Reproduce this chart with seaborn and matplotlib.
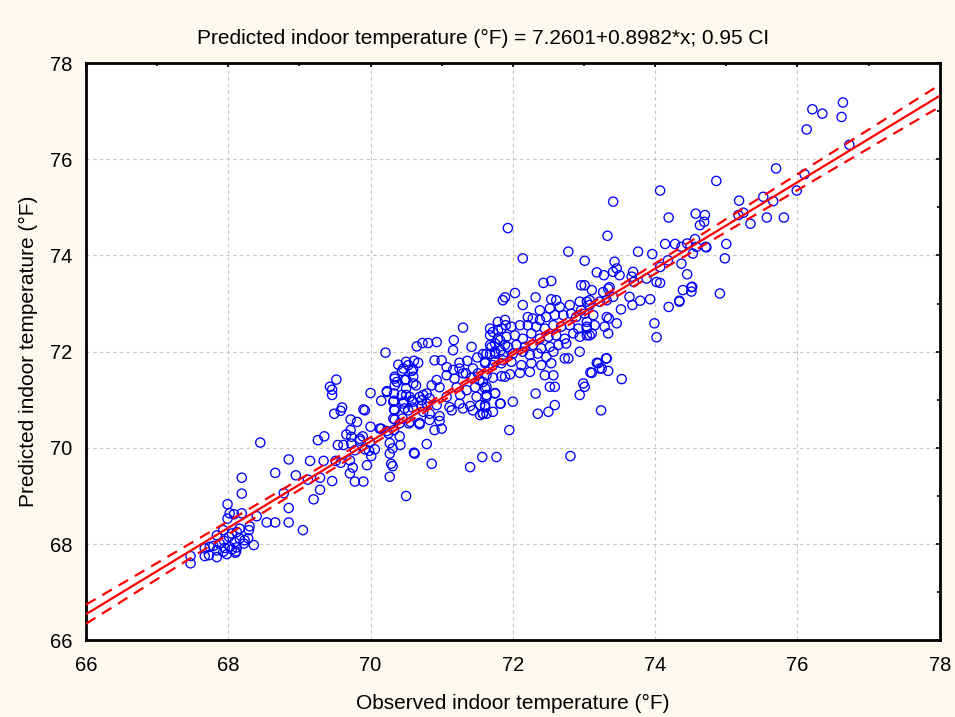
import numpy as np
import pandas as pd
import matplotlib
matplotlib.use("Agg")
import matplotlib.pyplot as plt
from matplotlib.ticker import MultipleLocator
import seaborn as sns

# Observed vs. predicted indoor temperature (°F)
observed = [
    68.45, 69.26, 69.35, 69.54, 68.85, 69.15, 69.34, 68.66, 68.95, 69.12, 69.29, 69.46, 68.19, 68.19,
    68.78, 69.29, 69.20, 67.99, 68.85, 68.02, 68.08, 68.19, 67.99, 68.40, 68.54, 68.66, 68.85, 68.30,
    69.05, 68.16, 68.29, 67.93, 68.05, 68.12, 67.84, 68.01, 68.16, 68.28, 67.94, 68.09, 68.23, 68.36,
    67.79, 67.88, 67.95, 68.02, 68.12, 68.22, 67.67, 67.74, 67.84, 67.93, 68.05, 68.11, 67.47, 67.67,
    67.73, 67.84, 67.98, 68.10, 67.47,
    70.65, 70.73, 70.81, 70.21, 70.39, 70.50, 70.53, 70.61, 70.67, 70.44, 70.58, 69.52, 69.43, 69.46,
    69.46, 70.34, 70.37, 70.50, 70.60, 70.60, 70.64, 70.00, 70.23, 70.33, 70.50, 70.50, 70.47, 70.58,
    70.69, 70.79, 70.15, 70.33, 69.60, 69.58, 69.49, 69.90, 69.92, 70.33, 70.48, 70.59, 70.72, 69.72,
    69.81, 70.34, 70.45, 70.54, 70.69, 70.00, 70.13, 70.23, 70.33, 69.72, 69.66, 69.73, 69.85, 69.89,
    70.41, 70.27, 70.31, 70.42, 69.62, 69.73, 69.85, 69.99, 70.79, 69.78, 69.92, 69.98, 70.06, 70.01,
    70.61, 69.51, 69.58, 69.71, 69.75, 69.71, 69.95, 70.29, 70.31, 69.78, 69.90, 70.27, 70.50,
    71.30, 71.68, 71.72, 71.79, 71.84, 71.90, 71.86, 70.93, 71.17, 71.16, 71.42, 71.68, 71.75, 71.82,
    71.89, 71.83, 71.75, 71.68, 71.58, 70.90, 71.00, 71.25, 71.36, 71.50, 71.61, 71.75, 71.86, 70.46,
    70.60, 71.07, 71.16, 71.25, 71.34, 71.44, 71.51, 70.34, 70.48, 70.93, 71.07, 71.18, 71.30, 71.42,
    71.53, 71.63, 71.72, 71.89, 70.34, 70.86, 70.97, 71.21, 71.35, 71.47, 71.61, 70.23, 70.44, 70.55,
    70.74, 70.72, 70.83, 71.07, 71.26, 71.49, 71.63, 71.75, 70.32, 70.46, 70.60, 70.79, 70.93, 71.11,
    71.25, 71.40, 71.54, 71.61, 71.82, 70.34, 70.53, 70.74, 70.83, 70.97, 71.14, 71.30, 71.44, 71.58,
    71.72, 70.32, 70.41, 70.56, 70.69, 70.83, 70.97, 71.54, 70.15, 70.25, 70.90, 71.00, 70.27, 70.62,
    70.86, 71.40, 71.57, 71.77,
    72.14, 72.78, 73.01, 73.18, 73.28, 72.43, 72.54, 72.96, 73.01, 72.03, 71.89, 72.32, 73.11, 73.27,
    73.34, 72.54, 72.61, 72.14, 72.38, 72.52, 72.66, 72.80, 72.94, 73.04, 73.08, 72.96, 72.21, 72.28,
    72.38, 72.47, 72.59, 72.71, 72.82, 72.89, 73.01, 73.13, 73.32, 71.79, 71.89, 71.98, 72.10, 72.21,
    72.33, 72.45, 72.57, 72.68, 72.80, 72.92, 73.04, 73.15, 73.08, 72.94, 72.85, 71.68, 71.79, 71.91,
    72.03, 72.14, 72.26, 72.38, 72.50, 72.61, 72.73, 71.70, 71.93, 72.05, 72.17, 72.28, 72.40, 72.52,
    72.64, 72.75, 71.63, 71.75, 71.86, 72.00, 72.14, 72.24, 72.35, 72.47, 72.57, 72.73, 72.78, 72.94,
    73.20, 73.31, 71.61, 71.72, 71.84, 71.98, 72.12, 72.26, 72.40, 72.54, 71.84, 71.96, 72.10, 72.24,
    72.45, 72.57, 73.11, 73.22, 71.58, 71.63, 71.75, 71.63, 71.61, 71.58, 71.63, 72.52, 72.59, 72.99,
    73.01, 72.94, 72.32, 72.00, 71.83, 72.59, 72.50, 72.35, 73.24, 71.95,
    73.41, 74.19, 74.57, 74.70, 74.63, 74.69, 73.33, 74.14, 74.28, 74.37, 74.45, 74.56, 74.58, 74.71,
    74.53, 73.76, 73.96, 73.43, 73.46, 73.41, 73.50, 73.69, 73.67, 73.70, 73.88, 74.02, 74.07, 74.18,
    74.37, 74.45, 74.39, 74.51, 74.51, 73.36, 73.08, 73.22, 73.32, 73.41, 73.64, 73.68, 73.79, 73.52,
    73.93, 74.19, 74.34, 73.04, 73.04, 73.29, 73.46, 73.35, 73.04, 73.11, 73.34, 73.99, 74.02, 73.18,
    73.32, 73.25, 73.34, 73.09, 73.53,
    75.70, 74.86, 74.07, 75.18, 75.52, 75.66, 75.17, 75.24, 75.34, 75.57, 75.81, 74.72, 75.00, 74.98,
    74.52, 74.34, 74.91, 74.07,
    76.21, 76.35, 76.64, 76.62, 76.13, 76.73, 76.10, 75.99,
    71.93, 72.81,
]
predicted = [
    70.11, 70.16, 70.24, 70.06, 69.76, 69.73, 69.73, 69.48, 69.43, 69.34, 69.38, 69.31, 69.38, 69.05,
    69.06, 69.13, 68.93, 68.83, 68.75, 68.64, 68.62, 68.64, 68.53, 68.58, 68.45, 68.45, 68.45, 68.37,
    68.29, 68.32, 68.29, 68.29, 68.22, 68.25, 68.18, 68.15, 68.12, 68.12, 68.07, 68.04, 68.08, 67.98,
    67.96, 68.01, 67.92, 67.94, 67.93, 68.01, 67.91, 67.94, 67.87, 67.84, 67.89, 67.85, 67.75, 67.75,
    67.77, 67.73, 67.79, 67.82, 67.60,
    72.11, 72.18, 72.18, 71.98, 71.73, 71.79, 71.72, 71.81, 71.77, 71.60, 71.60, 71.42, 71.27, 71.21,
    71.10, 71.48, 71.37, 71.42, 71.48, 71.34, 71.30, 71.14, 71.16, 71.13, 71.24, 71.10, 70.96, 70.99,
    71.06, 71.13, 70.98, 70.98, 70.84, 70.77, 70.71, 70.80, 70.78, 70.80, 70.82, 70.84, 70.87, 70.59,
    70.54, 70.59, 70.61, 70.51, 70.52, 70.44, 70.40, 70.35, 70.37, 70.37, 70.28, 70.23, 70.19, 70.24,
    70.24, 70.10, 69.99, 70.06, 70.06, 70.09, 70.15, 70.12, 70.08, 69.95, 69.97, 69.94, 69.97, 69.83,
    69.90, 69.73, 69.69, 69.74, 69.59, 69.47, 69.64, 69.67, 69.62, 69.30, 69.30, 69.40, 69.00,
    72.50, 72.48, 72.41, 72.45, 72.48, 72.55, 73.07, 72.20, 72.24, 72.03, 72.10, 72.14, 72.17, 72.24,
    72.14, 72.03, 71.96, 71.95, 71.95, 71.82, 71.82, 71.77, 71.81, 71.88, 71.79, 71.79, 71.82, 71.65,
    71.63, 71.68, 71.62, 71.65, 71.55, 71.65, 71.55, 71.44, 71.41, 71.41, 71.51, 71.44, 71.55, 71.46,
    71.41, 71.51, 71.46, 71.48, 71.30, 71.30, 71.26, 71.26, 71.20, 71.26, 71.24, 71.18, 71.10, 71.06,
    71.10, 70.99, 71.03, 71.06, 71.10, 71.06, 71.10, 71.14, 70.96, 70.92, 70.96, 70.92, 70.89, 70.85,
    70.92, 70.87, 70.89, 70.85, 70.92, 70.78, 70.78, 70.75, 70.71, 70.66, 70.78, 70.82, 70.78, 70.71,
    70.75, 70.61, 70.51, 70.54, 70.49, 70.58, 70.56, 70.68, 70.40, 70.30, 70.37, 70.40, 69.88, 69.88,
    69.67, 69.60, 69.81, 69.81,
    73.94, 74.08, 73.89, 73.65, 73.59, 73.43, 73.47, 73.38, 73.38, 73.22, 73.13, 73.13, 73.28, 73.24,
    73.31, 73.09, 73.07, 72.97, 72.86, 72.90, 72.93, 72.97, 73.04, 73.04, 72.97, 72.86, 72.72, 72.69,
    72.66, 72.72, 72.76, 72.76, 72.79, 72.72, 72.79, 72.76, 72.72, 72.62, 72.66, 72.52, 72.55, 72.55,
    72.52, 72.48, 72.55, 72.52, 72.55, 72.48, 72.52, 72.55, 72.34, 72.31, 72.38, 72.34, 72.27, 72.31,
    72.34, 72.27, 72.38, 72.27, 72.31, 72.34, 72.27, 72.10, 72.10, 72.14, 72.10, 72.14, 72.07, 72.10,
    72.14, 72.17, 71.96, 72.00, 71.93, 71.96, 72.00, 71.93, 71.96, 71.89, 72.00, 71.86, 71.86, 72.00,
    71.76, 71.86, 71.76, 71.72, 71.76, 71.79, 71.72, 71.76, 71.72, 71.76, 71.49, 71.53, 71.56, 71.58,
    71.51, 71.51, 71.56, 71.65, 71.37, 71.27, 71.13, 71.06, 70.89, 70.71, 70.71, 71.27, 71.27, 71.34,
    71.27, 71.10, 71.13, 70.96, 70.92, 70.89, 70.75, 70.71, 70.78, 70.37,
    75.12, 74.79, 74.87, 74.84, 74.63, 74.70, 74.41, 74.24, 74.24, 74.18, 74.25, 74.34, 74.18, 74.18,
    74.04, 74.08, 74.03, 73.87, 73.73, 73.66, 73.59, 73.66, 73.56, 73.45, 73.52, 73.45, 73.76, 73.90,
    73.83, 73.61, 73.28, 73.34, 73.25, 73.34, 73.07, 73.04, 73.07, 73.14, 73.14, 72.97, 73.06, 72.88,
    73.09, 72.93, 73.06, 72.62, 72.48, 72.52, 72.59, 72.69, 72.34, 72.38, 72.38, 72.59, 72.30, 71.77,
    71.86, 71.65, 71.60, 71.57, 71.43,
    75.81, 75.55, 75.35, 75.14, 75.22, 75.13, 74.84, 74.89, 74.66, 74.79, 74.79, 74.17, 74.24, 73.94,
    73.35, 73.04, 73.21, 73.43,
    77.04, 76.95, 77.18, 76.88, 76.62, 76.30, 75.69, 75.35,
    74.57, 69.83,
]

# Fitted model stated in the title
intercept = 7.2601
slope = 0.8982
conf_level = 0.95

x_ticks = [66, 68, 70, 72, 74, 76, 78]
y_ticks = [66, 68, 70, 72, 74, 76, 78]

df = pd.DataFrame({"Observed": observed, "Predicted": predicted})

sns.set_style("white")
plt.rcParams["font.family"] = ["Liberation Sans", "DejaVu Sans"]
plt.rcParams["text.color"] = "black"
plt.rcParams["axes.labelcolor"] = "black"
plt.rcParams["xtick.color"] = "black"
plt.rcParams["ytick.color"] = "black"

fig = plt.figure(figsize=(9.55, 7.17), dpi=100, facecolor="#fdf9ee")
ax = fig.add_axes([0.090, 0.107, 0.894, 0.805])
ax.set_facecolor("white")

ax.grid(True, which="major", color="#c4c4c4", linestyle=(0, (3, 3)), linewidth=0.8)
ax.set_axisbelow(True)

sns.scatterplot(data=df, x="Observed", y="Predicted", ax=ax, marker="o", s=44,
                facecolor="none", edgecolor="#0000ff", linewidth=0.95, zorder=3)

# Regression line with 95% confidence band for the mean
xs = np.linspace(66, 78, 200)
fit = intercept + slope * xs
xo = np.asarray(observed)
yo = np.asarray(predicted)
n = len(xo)
resid = yo - (intercept + slope * xo)
s_err = np.sqrt(np.sum(resid ** 2) / (n - 2))
sxx = np.sum((xo - xo.mean()) ** 2)
half = 1.96 * s_err * np.sqrt(1.0 / n + (xs - xo.mean()) ** 2 / sxx)

ax.plot(xs, fit, color="#ff0000", lw=1.6, zorder=4)
ax.plot(xs, fit + half, color="#ff0000", lw=1.6, ls=(0, (5, 3.5)), zorder=4)
ax.plot(xs, fit - half, color="#ff0000", lw=1.6, ls=(0, (5, 3.5)), zorder=4)

ax.set_xlim(66, 78)
ax.set_ylim(66, 78)
ax.set_xticks(x_ticks)
ax.set_yticks(y_ticks)
ax.xaxis.set_minor_locator(MultipleLocator(1))
ax.yaxis.set_minor_locator(MultipleLocator(1))
ax.tick_params(which="both", direction="in", top=True, right=True, length=3,
               width=1.2, color="black", labelcolor="black", labelsize=14.5)
ax.tick_params(axis="x", which="major", pad=11)
ax.tick_params(axis="y", which="major", pad=10)
ax.tick_params(which="minor", length=2)

for sp in ax.spines.values():
    sp.set_color("black")
    sp.set_linewidth(2)

ax.set_xlabel("Observed indoor temperature (°F)", fontsize=15, labelpad=14, color="black")
ax.set_ylabel("Predicted indoor temperature (°F)", fontsize=15, labelpad=8, color="black")

fig.text(0.506, 0.947,
         f"Predicted indoor temperature (°F) = {intercept:.4f}+{slope:.4f}*x; {conf_level:.2f} CI",
         ha="center", va="center", fontsize=15, color="black")

fig.savefig("out.png", dpi=100, facecolor=fig.get_facecolor())
